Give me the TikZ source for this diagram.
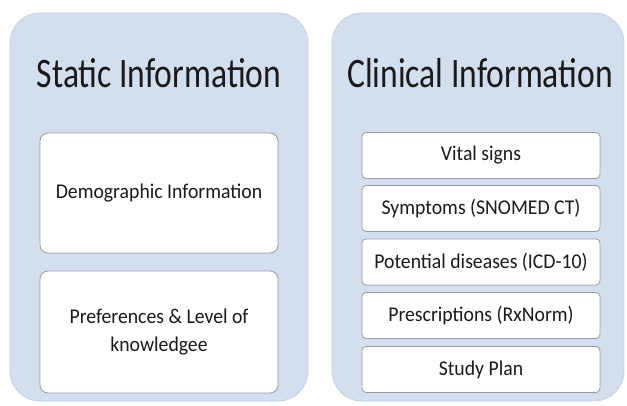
\documentclass[tikz,border=0pt]{standalone}
\usepackage{fontspec}
\setmainfont{Carlito}
\newfontfamily\titlefont{Carlito}[FakeStretch=0.8]
\newfontfamily\boxfont{Carlito}[FakeStretch=0.94]
\definecolor{panelblue}{HTML}{D3DEEF}
\definecolor{boxedge}{HTML}{9A9A9A}
\definecolor{txt}{HTML}{1A1A1A}
\begin{document}
\begin{tikzpicture}[x=1pt,y=-1pt,
  panel/.style={fill=panelblue, draw=panelblue!85!gray, line width=0.8pt, rounded corners=30pt, inner sep=0pt},
  ibox/.style={fill=white, draw=boxedge, line width=0.8pt, rounded corners=8pt, inner sep=0pt, text=txt, font=\boxfont\fontsize{21}{28}\selectfont, align=center},
  sbox/.style={fill=white, draw=boxedge, line width=0.8pt, rounded corners=4pt, inner sep=0pt, text=txt, font=\boxfont\fontsize{21}{26}\selectfont, minimum width=238pt, minimum height=46pt},
  title/.style={text=txt, font=\titlefont\fontsize{42}{48}\selectfont, inner sep=0pt}]
\useasboundingbox (0,0) rectangle (627,406);
\node[panel, minimum width=298pt, minimum height=388pt] (lp) at (159,207) {};
\node[panel, minimum width=292pt, minimum height=388pt] (rp) at (478,207) {};
\node[title] (lt) at (159,73) {Static Information};
\node[title] (rt) at (480,73) {Clinical Information};
\node[ibox, minimum width=238pt, minimum height=120pt] (demo) at (159,193) {Demographic Information};
\node[ibox, minimum width=238pt, minimum height=122pt] (pref) at (159,332) {Preferences \& Level of\\knowledgee};
\node[sbox] (vital) at (481,155.5) {Vital signs};
\node[sbox] (symp) at (481,208.5) {Symptoms (SNOMED CT)};
\node[sbox] (pot) at (481,262) {Potential diseases (ICD-10)};
\node[sbox] (pres) at (481,315.5) {Prescriptions (RxNorm)};
\node[sbox] (plan) at (481,369.5) {Study Plan};
\end{tikzpicture}
\end{document}
